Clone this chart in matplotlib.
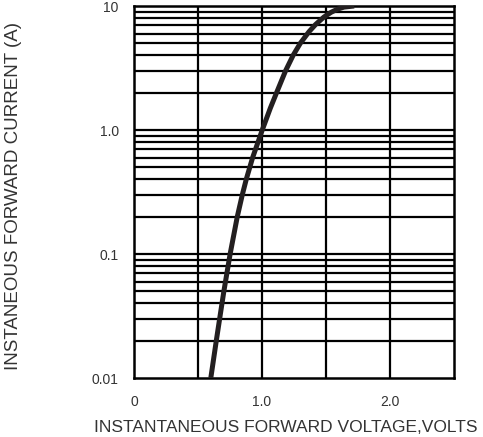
import matplotlib
matplotlib.use("Agg")
import matplotlib.pyplot as plt
import numpy as np

voltage = [0.600, 0.643, 0.669, 0.702, 0.751, 0.807, 0.846, 0.877, 0.927, 1.002,
           1.065, 1.114, 1.184, 1.243, 1.299, 1.367, 1.419, 1.484, 1.540, 1.591,
           1.641, 1.720]
current = [0.01, 0.02, 0.03, 0.05, 0.1, 0.2, 0.3, 0.4, 0.6, 1.0,
           1.5, 2.0, 3.0, 4.0, 5.0, 6.2, 7.1, 8.15, 8.9, 9.44,
           9.8, 10.0]

x_ticks = [0, 1.0, 2.0]
x_tick_labels = ["0", "1.0", "2.0"]
y_ticks = [0.01, 0.1, 1.0, 10]
y_tick_labels = ["0.01", "0.1", "1.0", "10"]

plt.rcParams['font.family'] = ['Liberation Sans', 'DejaVu Sans']

fig = plt.figure(figsize=(4.83, 4.37), dpi=100)
ax = fig.add_axes([134/483, 1-378/437, 320/483, 372/437])
ax.set_yscale('log')
ax.set_xlim(0, 2.5)
ax.set_ylim(0.01, 10)

# grid
for xv in np.arange(0.5, 2.5, 0.5):
    ax.axvline(xv, color='black', lw=1.6, zorder=1)
for dec in [0.01, 0.1, 1.0]:
    for m in range(2, 10):
        ax.axhline(dec*m, color='black', lw=1.6, zorder=1)
for yv in [0.1, 1.0]:
    ax.axhline(yv, color='black', lw=1.6, zorder=1)

ax.plot(voltage, current, color='#231f20', lw=3.6, solid_capstyle='butt',
        solid_joinstyle='round', zorder=3)

for s in ax.spines.values():
    s.set_linewidth(1.8)
    s.set_color('black')

ax.set_xticks(x_ticks)
ax.set_xticklabels(x_tick_labels)
ax.set_yticks(y_ticks)
ax.set_yticklabels(y_tick_labels)
ax.minorticks_off()
ax.tick_params(length=0, labelsize=10, colors='#333333')
ax.tick_params(axis='y', pad=11)
ax.tick_params(axis='x', pad=12)

fig.text(286/483, 1-432/437, "INSTANTANEOUS FORWARD VOLTAGE,VOLTS", fontsize=12.5,
         color='#333333', ha='center', va='baseline')
fig.text(14/483, 1-195.5/437, "INSTANEOUS FORWARD CURRENT (A)", rotation=90, fontsize=13.5,
         color='#333333', ha='center', va='center')

fig.savefig("out.png", dpi=100)
